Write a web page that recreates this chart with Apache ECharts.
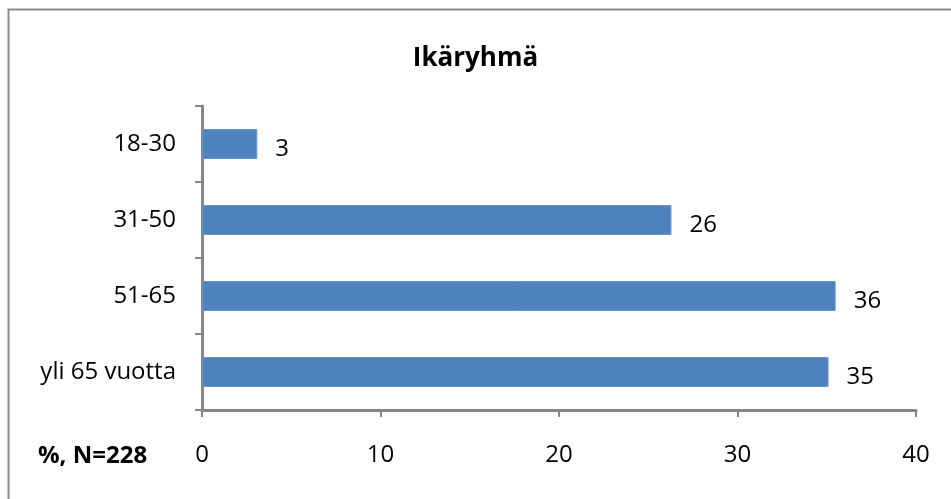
<!DOCTYPE html>
<html>
<head>
<meta charset="utf-8">
<script src="https://cdn.jsdelivr.net/npm/echarts@6/dist/echarts.min.js"></script>
<style>
  html, body { margin: 0; padding: 0; background: #fff; }
  #chart { width: 951px; height: 499px; }
</style>
</head>
<body>
<div id="chart"></div>
<script>
  // ikäryhmät ylhäältä alas
  var categories = ['18-30', '31-50', '51-65', 'yli 65 vuotta'];
  var values = [3.1, 26.3, 35.5, 35.1];
  var xTicks = [0, 10, 20, 30, 40];

  var font = '"Open Sans", "Noto Sans", sans-serif';
  var axisGrey = '#868686';

  var myChart = echarts.init(document.getElementById('chart'));

  myChart.setOption({
    animation: false,
    title: {
      text: 'Ikäryhmä',
      left: 'center',
      top: 41,
      textStyle: { fontFamily: font, fontSize: 26, fontWeight: 'bold', color: '#000' }
    },
    grid: { left: 202, right: 35, top: 106, bottom: 89, containLabel: false },
    xAxis: {
      type: 'value',
      min: xTicks[0],
      max: xTicks[xTicks.length - 1],
      interval: 10,
      splitLine: { show: false },
      axisLine: { show: true, lineStyle: { color: axisGrey, width: 3 } },
      axisTick: { show: true, length: 7, lineStyle: { color: axisGrey, width: 2 } },
      axisLabel: { margin: 33, fontFamily: font, fontSize: 24, color: '#000' }
    },
    yAxis: {
      type: 'category',
      inverse: true,
      data: categories,
      axisLine: { show: true, lineStyle: { color: axisGrey, width: 3 } },
      axisTick: { show: true, length: 7, lineStyle: { color: axisGrey, width: 2 } },
      axisLabel: { margin: 26, fontFamily: font, fontSize: 24, color: '#000' }
    },
    series: [{
      type: 'bar',
      data: values,
      barWidth: 30,
      itemStyle: { color: '#4f81bd', borderColor: '#6f97c9', borderWidth: 1 },
      label: {
        show: true,
        position: 'right',
        distance: 18,
        offset: [0, 5],
        fontFamily: font,
        fontSize: 24,
        color: '#000',
        formatter: function (p) { return Math.round(p.value); }
      }
    }],
    graphic: [
      {
        type: 'rect',
        shape: { x: 8.5, y: 9.5, width: 960, height: 510 },
        style: { fill: 'none', stroke: '#8c8c8c', lineWidth: 2 }
      },
      {
        type: 'text',
        left: 38,
        top: 444,
        style: { text: '%, N=228', font: 'bold 24px ' + font, fill: '#000' }
      }
    ]
  });
</script>
</body>
</html>
